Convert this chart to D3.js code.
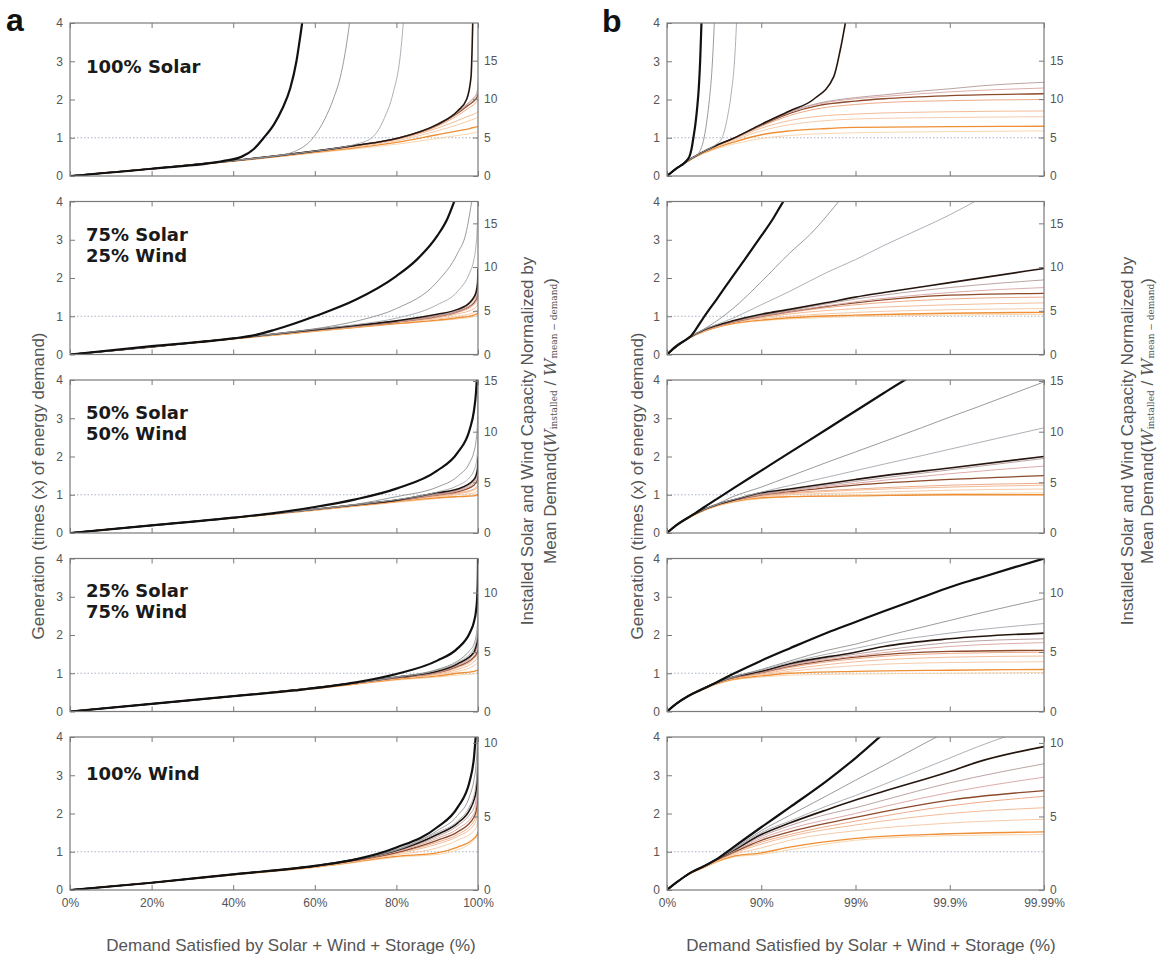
<!DOCTYPE html>
<html>
<head>
<meta charset="utf-8">
<script src="https://cdn.jsdelivr.net/npm/d3@7"></script>
<style>
  body { margin: 0; background: #fff; }
  svg { display: block; font-family: "Liberation Sans", Arial, sans-serif; }
</style>
</head>
<body>
<script>

// panel text for each generation mix
var mixLabels = [["100% Solar"], ["75% Solar", "25% Wind"], ["50% Solar", "50% Wind"], ["25% Solar", "75% Wind"], ["100% Wind"]];

var genTicks = [0, 1, 2, 3, 4];
var capMax = [19.9, 17.5, 15.1, 12.86, 10.4];
var capTicks = [[0, 5, 10, 15], [0, 5, 10, 15], [0, 5, 10, 15], [0, 5, 10], [0, 5, 10]];
var xTicksA = [0, 20, 40, 60, 80, 100];
var xTicksB = [0, 90, 99, 99.9, 99.99];

// curves: [demand satisfied %, generation (x demand)], ordered by storage size
var solar100 = [
  [[0,0],[20,0.19],[38,0.4],[42,0.5],[45,0.7],[47.5,1.0],[50,1.35],[52,1.75],[54,2.3],[55.5,3.0],[56.5,3.7],[57.3,4.3]],
  [[0,0],[20,0.19],[40,0.4],[50,0.52],[55,0.64],[59.6,1.0],[62.5,1.5],[64.5,2.0],[66.5,2.7],[68,3.6],[69,4.4]],
  [[0,0],[20,0.19],[40,0.4],[50,0.52],[60,0.65],[66,0.74],[70,0.83],[74,1.0],[77,1.5],[79.2,2.17],[80.9,3.1],[82,4.4]],
  [[0,0],[20,0.19],[40,0.4],[50,0.52],[60,0.65],[70,0.8],[80,0.98],[90,1.35],[95,1.7],[97.2,2.0],[98.3,2.6],[98.55,3.3],[98.8,4.4]],
  [[0,0],[20,0.19],[40,0.4],[50,0.52],[60,0.65],[70,0.8],[80,0.98],[90,1.35],[95,1.68],[97.5,1.9],[99,2.05],[99.5,2.12],[99.8,2.22],[99.9,2.28],[99.95,2.35],[99.99,2.45]],
  [[0,0],[20,0.19],[40,0.4],[50,0.52],[60,0.65],[70,0.8],[80,0.98],[90,1.34],[95,1.66],[97.5,1.88],[99,2.02],[99.5,2.08],[99.9,2.2],[99.99,2.3]],
  [[0,0],[20,0.19],[40,0.4],[50,0.52],[60,0.65],[70,0.8],[80,0.98],[90,1.33],[95,1.64],[97.5,1.84],[99,1.96],[99.5,2.02],[99.9,2.1],[99.99,2.15]],
  [[0,0],[20,0.19],[40,0.4],[50,0.52],[60,0.65],[70,0.8],[80,0.97],[90,1.3],[95,1.58],[97.5,1.76],[99,1.87],[99.5,1.92],[99.9,1.97],[99.99,2.0]],
  [[0,0],[20,0.19],[40,0.4],[50,0.52],[60,0.64],[70,0.78],[80,0.95],[90,1.25],[95,1.45],[97.5,1.56],[99,1.62],[99.9,1.68],[99.99,1.7]],
  [[0,0],[20,0.19],[40,0.4],[50,0.51],[60,0.63],[70,0.76],[80,0.92],[90,1.18],[95,1.34],[98,1.45],[99,1.49],[99.9,1.53],[99.99,1.55]],
  [[0,0],[20,0.19],[40,0.39],[50,0.5],[60,0.62],[70,0.74],[80,0.88],[90,1.08],[95,1.18],[98,1.24],[99,1.27],[99.9,1.29],[99.99,1.3]],
  [[0,0],[20,0.19],[40,0.38],[50,0.49],[60,0.6],[70,0.71],[80,0.83],[90,0.98],[95,1.06],[99,1.13],[99.9,1.16],[99.99,1.18]]
];

var solar75 = [
  [[0,0],[20,0.22],[40,0.42],[45,0.5],[50,0.64],[60,1.0],[70,1.43],[80,2.05],[85,2.48],[90,3.1],[92.5,3.55],[94,3.95],[95,4.25]],
  [[0,0],[20,0.2],[40,0.42],[55,0.6],[65,0.76],[72,0.92],[80,1.2],[90,1.9],[95,2.65],[97,3.15],[98.6,4.1]],
  [[0,0],[20,0.2],[40,0.42],[60,0.66],[70,0.78],[80,0.95],[90,1.3],[95,1.65],[98,2.15],[99,2.48],[99.5,2.85],[99.8,3.3],[99.9,3.65],[99.95,4.05]],
  [[0,0],[20,0.2],[40,0.42],[60,0.65],[70,0.76],[80,0.88],[90,1.05],[95,1.18],[98,1.36],[99,1.5],[99.5,1.62],[99.9,1.88],[99.99,2.25]],
  [[0,0],[20,0.2],[40,0.42],[60,0.64],[70,0.74],[80,0.86],[90,1.02],[95,1.15],[99,1.45],[99.9,1.75],[99.99,1.95]],
  [[0,0],[20,0.2],[40,0.42],[60,0.64],[70,0.74],[80,0.85],[90,1.0],[95,1.12],[99,1.38],[99.9,1.62],[99.99,1.75]],
  [[0,0],[20,0.2],[40,0.42],[60,0.64],[70,0.74],[80,0.85],[90,1.0],[95,1.12],[99,1.35],[99.9,1.55],[99.99,1.6]],
  [[0,0],[20,0.2],[40,0.42],[60,0.64],[70,0.74],[80,0.85],[90,0.98],[95,1.1],[99,1.3],[99.9,1.45],[99.99,1.5]],
  [[0,0],[20,0.2],[40,0.42],[60,0.63],[70,0.73],[80,0.84],[90,0.96],[95,1.06],[99,1.2],[99.9,1.3],[99.99,1.35]],
  [[0,0],[20,0.2],[40,0.41],[60,0.62],[70,0.72],[80,0.83],[90,0.93],[95,1.0],[99,1.1],[99.9,1.17],[99.99,1.2]],
  [[0,0],[20,0.2],[40,0.41],[60,0.61],[70,0.71],[80,0.81],[90,0.9],[95,0.96],[99,1.03],[99.9,1.08],[99.99,1.1]],
  [[0,0],[20,0.2],[40,0.4],[60,0.6],[70,0.7],[80,0.8],[90,0.88],[95,0.93],[99,0.99],[99.9,1.03],[99.99,1.05]]
];

var solar50 = [
  [[0,0],[20,0.2],[40,0.4],[50,0.52],[60,0.68],[70,0.88],[80,1.16],[90,1.63],[95,2.1],[98,2.72],[99,3.19],[99.5,3.66],[99.7,4.0],[99.8,4.25]],
  [[0,0],[20,0.2],[40,0.4],[60,0.62],[70,0.75],[80,0.95],[90,1.2],[95,1.48],[98,1.85],[99,2.12],[99.5,2.39],[99.8,2.75],[99.9,3.03],[99.95,3.3],[99.98,3.67],[99.99,3.95]],
  [[0,0],[20,0.2],[40,0.4],[60,0.62],[70,0.74],[80,0.87],[90,1.07],[95,1.24],[98,1.46],[99,1.63],[99.5,1.8],[99.8,2.02],[99.9,2.19],[99.95,2.36],[99.99,2.75]],
  [[0,0],[20,0.2],[40,0.4],[60,0.62],[70,0.74],[80,0.86],[90,1.05],[95,1.15],[99,1.4],[99.5,1.5],[99.9,1.7],[99.99,2.0]],
  [[0,0],[20,0.2],[40,0.4],[60,0.62],[70,0.74],[80,0.86],[90,1.02],[95,1.12],[99,1.35],[99.9,1.65],[99.99,1.95]],
  [[0,0],[20,0.2],[40,0.4],[60,0.62],[70,0.74],[80,0.86],[90,1.0],[95,1.1],[99,1.3],[99.9,1.55],[99.99,1.75]],
  [[0,0],[20,0.2],[40,0.4],[60,0.62],[70,0.73],[80,0.85],[90,1.0],[95,1.08],[99,1.25],[99.9,1.4],[99.99,1.5]],
  [[0,0],[20,0.2],[40,0.4],[60,0.61],[70,0.73],[80,0.85],[90,0.98],[95,1.05],[99,1.15],[99.9,1.25],[99.99,1.3]],
  [[0,0],[20,0.2],[40,0.4],[60,0.61],[70,0.72],[80,0.84],[90,0.97],[95,1.03],[99,1.12],[99.9,1.2],[99.99,1.25]],
  [[0,0],[20,0.2],[40,0.4],[60,0.6],[70,0.72],[80,0.83],[90,0.95],[95,1.0],[99,1.05],[99.9,1.12],[99.99,1.15]],
  [[0,0],[20,0.2],[40,0.39],[60,0.6],[70,0.71],[80,0.82],[90,0.92],[95,0.95],[99,0.97],[99.9,1.0],[99.99,1.0]],
  [[0,0],[20,0.2],[40,0.39],[60,0.59],[70,0.7],[80,0.8],[90,0.9],[95,0.95],[99,1.0],[99.9,1.03],[99.99,1.05]]
];

var solar25 = [
  [[0,0],[20,0.2],[40,0.4],[55,0.55],[70,0.76],[80,0.98],[90,1.33],[95,1.65],[98,2.06],[99,2.34],[99.5,2.62],[99.8,2.98],[99.9,3.25],[99.95,3.48],[99.98,3.78],[99.99,4.0]],
  [[0,0],[20,0.2],[40,0.4],[60,0.62],[70,0.75],[80,0.9],[90,1.1],[95,1.32],[98,1.6],[99,1.76],[99.5,1.96],[99.8,2.2],[99.9,2.38],[99.95,2.56],[99.99,2.95]],
  [[0,0],[20,0.2],[40,0.4],[60,0.62],[70,0.75],[80,0.9],[90,1.08],[95,1.28],[99,1.65],[99.5,1.8],[99.9,2.05],[99.99,2.3]],
  [[0,0],[20,0.2],[40,0.4],[60,0.62],[70,0.75],[80,0.9],[90,1.05],[95,1.25],[99,1.55],[99.5,1.7],[99.9,1.9],[99.99,2.05]],
  [[0,0],[20,0.2],[40,0.4],[60,0.62],[70,0.75],[80,0.89],[90,1.04],[95,1.22],[99,1.5],[99.9,1.8],[99.99,1.9]],
  [[0,0],[20,0.2],[40,0.4],[60,0.62],[70,0.75],[80,0.89],[90,1.02],[95,1.2],[99,1.45],[99.9,1.7],[99.99,1.8]],
  [[0,0],[20,0.2],[40,0.4],[60,0.62],[70,0.75],[80,0.88],[90,1.02],[95,1.18],[99,1.42],[99.9,1.57],[99.99,1.6]],
  [[0,0],[20,0.2],[40,0.4],[60,0.62],[70,0.74],[80,0.88],[90,1.0],[95,1.15],[99,1.38],[99.9,1.52],[99.99,1.55]],
  [[0,0],[20,0.2],[40,0.4],[60,0.61],[70,0.74],[80,0.87],[90,0.98],[95,1.1],[99,1.3],[99.9,1.42],[99.99,1.45]],
  [[0,0],[20,0.2],[40,0.4],[60,0.61],[70,0.73],[80,0.86],[90,0.96],[95,1.05],[99,1.2],[99.9,1.28],[99.99,1.3]],
  [[0,0],[20,0.2],[40,0.4],[60,0.6],[70,0.72],[80,0.84],[90,0.93],[95,1.0],[99,1.05],[99.9,1.08],[99.99,1.1]],
  [[0,0],[20,0.2],[40,0.39],[60,0.6],[70,0.71],[80,0.82],[90,0.9],[95,0.95],[99,0.98],[99.9,1.0],[99.99,1.02]]
];

var wind100 = [
  [[0,0],[20,0.19],[40,0.41],[60,0.63],[70,0.8],[80,1.11],[90,1.64],[95,2.16],[98,2.86],[99,3.45],[99.5,4.1]],
  [[0,0],[20,0.19],[40,0.41],[60,0.63],[70,0.8],[80,1.06],[90,1.55],[95,1.95],[98,2.47],[99,2.87],[99.5,3.26],[99.8,3.79],[99.9,4.18]],
  [[0,0],[20,0.19],[40,0.41],[60,0.63],[70,0.8],[80,1.04],[90,1.5],[95,1.8],[98,2.2],[99,2.47],[99.5,2.76],[99.8,3.15],[99.9,3.45],[99.95,3.75],[99.98,4.1]],
  [[0,0],[20,0.19],[40,0.41],[60,0.63],[70,0.8],[80,1.03],[90,1.45],[95,1.75],[98,2.1],[99,2.35],[99.5,2.58],[99.9,3.1],[99.95,3.35],[99.99,3.75]],
  [[0,0],[20,0.19],[40,0.41],[60,0.63],[70,0.79],[80,1.02],[90,1.4],[95,1.68],[98,1.98],[99,2.15],[99.5,2.35],[99.9,2.8],[99.99,3.3]],
  [[0,0],[20,0.19],[40,0.41],[60,0.63],[70,0.79],[80,1.0],[90,1.35],[95,1.6],[99,2.0],[99.5,2.18],[99.9,2.55],[99.99,2.95]],
  [[0,0],[20,0.19],[40,0.41],[60,0.62],[70,0.78],[80,0.98],[90,1.3],[95,1.52],[99,1.9],[99.5,2.05],[99.9,2.35],[99.99,2.6]],
  [[0,0],[20,0.19],[40,0.41],[60,0.62],[70,0.77],[80,0.97],[90,1.25],[95,1.45],[99,1.8],[99.9,2.2],[99.99,2.45]],
  [[0,0],[20,0.19],[40,0.4],[60,0.61],[70,0.76],[80,0.95],[90,1.2],[95,1.4],[99,1.7],[99.9,2.0],[99.99,2.15]],
  [[0,0],[20,0.19],[40,0.4],[60,0.6],[70,0.75],[80,0.92],[90,1.1],[95,1.3],[99,1.55],[99.9,1.75],[99.99,1.85]],
  [[0,0],[20,0.19],[40,0.4],[60,0.6],[70,0.74],[80,0.88],[90,0.97],[95,1.12],[99,1.35],[99.9,1.47],[99.99,1.52]],
  [[0,0],[20,0.19],[40,0.39],[60,0.59],[70,0.72],[80,0.86],[90,0.93],[95,1.05],[99,1.3],[99.9,1.42],[99.99,1.45]]
];

var mixes = [solar100, solar75, solar50, solar25, wind100];

// line styles by storage index (black -> gray -> brown -> orange)
var curveColors = ["#111111", "#8e8e8e", "#a3a7ae", "#24160f", "#b39a98", "#d9a3a0", "#8c4a2a", "#eba27c", "#f2b48c", "#f5c5a0", "#ef8f35", "#f7d2a8"];
var curveWidths = [2.2, 0.9, 0.9, 1.6, 0.9, 0.9, 1.3, 0.9, 0.9, 0.9, 1.4, 0.9];

var width = 1163, height = 958;
var panelTop = 23, rowStep = 178.5, panelH = 153;

var svg = d3.select("body")
    .append("svg")
    .attr("width", width)
    .attr("height", height);

var xA = d3.scaleLinear().domain([0, 100]).range([70, 478]);
// right column: equally spaced "nines", i.e. log of unmet demand
var xB = d3.scaleLog().domain([100, 0.01]).range([667, 1044]);

var columns = [
    {left: 70, right: 478, px: function(p) { return xA(p); }, axisScale: xA,
     tickVals: xTicksA, tickLabels: xTicksA.map(function(d) { return d + "%"; })},
    {left: 667, right: 1044, px: function(p) { return xB(100 - p); }, axisScale: xB,
     tickVals: xTicksB.map(function(d) { return 100 - d; }), tickLabels: xTicksB.map(function(d) { return d + "%"; })}
];

// baselines of the mix labels, relative to panel top
var labelOffsets = [[50], [39, 60], [39, 60], [38, 59], [43]];

function styleAxis(g) {
    g.select(".domain").remove();
    g.selectAll(".tick line").attr("stroke", "#7a7a7a");
    g.selectAll(".tick text")
        .attr("fill", "#555")
        .style("font-size", "12px")
        .style("font-family", "'Liberation Sans', Arial, sans-serif");
}

mixes.forEach(function(curves, r) {
    var top = panelTop + r * rowStep;
    var bottom = top + panelH;

    var yScale = d3.scaleLinear().domain([0, 4]).range([bottom, top]);
    var y2Scale = d3.scaleLinear().domain([0, capMax[r]]).range([bottom, top]);

    columns.forEach(function(col, c) {
        var g = svg.append("g");
        var clipId = "clip" + r + "_" + c;

        g.append("clipPath")
            .attr("id", clipId)
            .append("rect")
            .attr("x", col.left)
            .attr("y", top)
            .attr("width", col.right - col.left)
            .attr("height", panelH);

        // reference line at 1x demand
        g.append("line")
            .attr("x1", col.left)
            .attr("x2", col.right)
            .attr("y1", yScale(1))
            .attr("y2", yScale(1))
            .attr("stroke", "#a9b5c2")
            .attr("stroke-width", 1)
            .attr("stroke-dasharray", "1.5,2");

        var line = d3.line()
            .x(function(d) { return col.px(d[0]); })
            .y(function(d) { return yScale(d[1]); })
            .curve(d3.curveMonotoneX);

        g.append("g")
            .attr("clip-path", "url(#" + clipId + ")")
            .selectAll("path")
            .data(curves.map(function(pts, i) { return {pts: pts, i: i}; }).reverse())
            .enter()
            .append("path")
            .attr("d", function(d) { return line(d.pts); })
            .attr("fill", "none")
            .attr("stroke", function(d) { return curveColors[d.i]; })
            .attr("stroke-width", function(d) { return curveWidths[d.i]; })
            .attr("stroke-linejoin", "round");

        // frame
        g.append("rect")
            .attr("x", col.left)
            .attr("y", top)
            .attr("width", col.right - col.left)
            .attr("height", panelH)
            .attr("fill", "none")
            .attr("stroke", "#7a7a7a")
            .attr("stroke-width", 1.2);

        var xAxis = d3.axisBottom(col.axisScale)
            .tickValues(col.tickVals)
            .tickSize(-5)
            .tickPadding(8)
            .tickFormat(function(d, i) { return r == 4 ? col.tickLabels[i] : ""; });

        g.append("g")
            .attr("transform", "translate(0," + bottom + ")")
            .call(xAxis)
            .call(styleAxis);

        g.append("g")
            .attr("transform", "translate(0," + top + ")")
            .call(d3.axisTop(col.axisScale).tickValues(col.tickVals).tickSize(-5).tickFormat(""))
            .call(styleAxis);

        g.append("g")
            .attr("transform", "translate(" + col.left + ",0)")
            .call(d3.axisLeft(yScale).tickValues(genTicks).tickSize(-5).tickPadding(7).tickFormat(d3.format("d")))
            .call(styleAxis);

        g.append("g")
            .attr("transform", "translate(" + col.right + ",0)")
            .call(d3.axisRight(y2Scale).tickValues(capTicks[r]).tickSize(-5).tickPadding(6).tickFormat(d3.format("d")))
            .call(styleAxis);

        // mix label (only left column)
        if (c == 0) {
            mixLabels[r].forEach(function(s, k) {
                g.append("text")
                    .attr("x", 86)
                    .attr("y", top + labelOffsets[r][k])
                    .attr("fill", "#1a1a1a")
                    .style("font-family", "'DejaVu Sans', sans-serif")
                    .style("font-size", "18px")
                    .style("font-weight", "bold")
                    .text(s);
            });
        }
    });
});

// panel letters
svg.append("text").attr("x", 6).attr("y", 31)
    .style("font-size", "32px").style("font-weight", "bold").attr("fill", "#111").text("a");
svg.append("text").attr("x", 602).attr("y", 32)
    .style("font-size", "32px").style("font-weight", "bold").attr("fill", "#111").text("b");

// axis titles
[{gx: 38, cx: 291, rx1: 527, rx2: 550}, {gx: 637, cx: 871, rx1: 1127, rx2: 1147}].forEach(function(p) {
    svg.append("text")
        .attr("transform", "translate(" + p.gx + ",486) rotate(-90)")
        .attr("text-anchor", "middle")
        .attr("dominant-baseline", "central")
        .attr("fill", "#555")
        .style("font-size", "17px")
        .text("Generation (times (x) of energy demand)");

    svg.append("text")
        .attr("x", p.cx)
        .attr("y", 945)
        .attr("text-anchor", "middle")
        .attr("dominant-baseline", "central")
        .attr("fill", "#555")
        .style("font-size", "17px")
        .text("Demand Satisfied by Solar + Wind + Storage (%)");

    svg.append("text")
        .attr("transform", "translate(" + p.rx1 + ",441) rotate(-90)")
        .attr("text-anchor", "middle")
        .attr("dominant-baseline", "central")
        .attr("fill", "#555")
        .style("font-size", "17px")
        .text("Installed Solar and Wind Capacity Normalized by");

    var t2 = svg.append("text")
        .attr("transform", "translate(" + p.rx2 + ",421) rotate(-90)")
        .attr("text-anchor", "middle")
        .attr("dominant-baseline", "central")
        .attr("fill", "#555")
        .style("font-size", "17px");
    t2.append("tspan").text("Mean Demand(");
    t2.append("tspan").style("font-style", "italic").style("font-family", "'DejaVu Serif', serif").text("W");
    t2.append("tspan").attr("dy", 4).style("font-size", "9px").style("font-family", "'DejaVu Serif', serif").text("installed");
    t2.append("tspan").attr("dy", -4).text(" / ");
    t2.append("tspan").style("font-style", "italic").style("font-family", "'DejaVu Serif', serif").text("W");
    t2.append("tspan").attr("dy", 4).style("font-size", "9px").style("font-family", "'DejaVu Serif', serif").text("mean \u2212 demand");
    t2.append("tspan").attr("dy", -4).text(")");
});

</script>
</body>
</html>
